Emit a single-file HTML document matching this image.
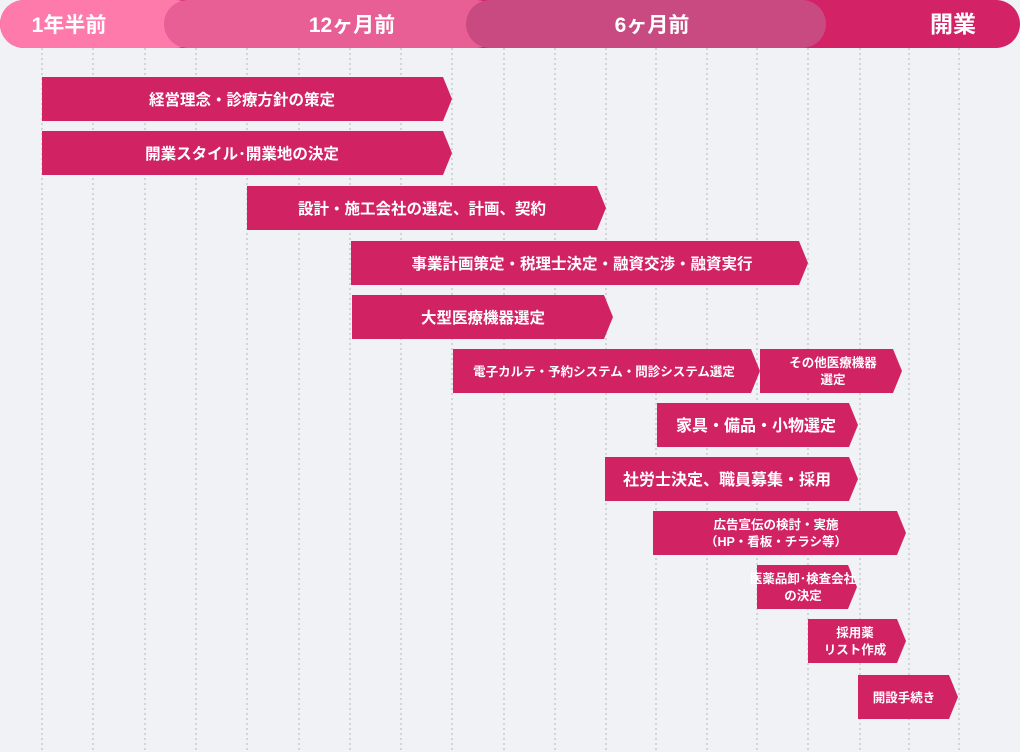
<!DOCTYPE html>
<html><head><meta charset="utf-8"><style>
html,body{margin:0;padding:0;background:#f1f2f6;}
svg{display:block}
text{font-family:"Liberation Sans","Noto Sans CJK JP",sans-serif;fill:#fff;font-weight:bold;text-anchor:middle;}
</style></head><body>
<svg width="1020" height="752" viewBox="0 0 1020 752">
<rect width="1020" height="752" fill="#f1f2f6"/>
<g stroke="#c9c9cc" stroke-width="1.5" stroke-dasharray="2,3">
<line x1="42" y1="48" x2="42" y2="752"/><line x1="93" y1="48" x2="93" y2="752"/><line x1="145" y1="48" x2="145" y2="752"/><line x1="196" y1="48" x2="196" y2="752"/><line x1="247" y1="48" x2="247" y2="752"/><line x1="299" y1="48" x2="299" y2="752"/><line x1="350" y1="48" x2="350" y2="752"/><line x1="401" y1="48" x2="401" y2="752"/><line x1="452" y1="48" x2="452" y2="752"/><line x1="504" y1="48" x2="504" y2="752"/><line x1="555" y1="48" x2="555" y2="752"/><line x1="606" y1="48" x2="606" y2="752"/><line x1="656" y1="48" x2="656" y2="752"/><line x1="707" y1="48" x2="707" y2="752"/><line x1="757" y1="48" x2="757" y2="752"/><line x1="808" y1="48" x2="808" y2="752"/><line x1="860" y1="48" x2="860" y2="752"/><line x1="909" y1="48" x2="909" y2="752"/><line x1="959" y1="48" x2="959" y2="752"/>
</g>
<rect x="0" y="0" width="1020" height="48" rx="24" fill="#d42266"/>
<rect x="0" y="0" width="200" height="48" rx="24" fill="#fd7aaa"/>
<rect x="164" y="0" width="336" height="48" rx="24" fill="#e85f95"/>
<rect x="466" y="0" width="360" height="48" rx="24" fill="#c94a80"/>
<text x="69" y="32" font-size="21">1年半前</text>
<text x="352" y="32" font-size="21">12ヶ月前</text>
<text x="652" y="32" font-size="21">6ヶ月前</text>
<text x="953" y="32" font-size="23">開業</text>
<g fill="#d12264">
<polygon points="42,77 443,77 452,99 443,121 42,121"/>
<polygon points="42,131 443,131 452,153 443,175 42,175"/>
<polygon points="247,186 597,186 606,208 597,230 247,230"/>
<polygon points="351,241 799,241 808,263 799,285 351,285"/>
<polygon points="352,295 604,295 613,317 604,339 352,339"/>
<polygon points="453,349 751,349 760,371 751,393 453,393"/>
<polygon points="760,349 893,349 902,371 893,393 760,393"/>
<polygon points="657,403 849,403 858,425 849,447 657,447"/>
<polygon points="605,457 849,457 858,479 849,501 605,501"/>
<polygon points="653,511 897,511 906,533 897,555 653,555"/>
<polygon points="757,565 848,565 857,587 848,609 757,609"/>
<polygon points="808,619 897,619 906,641 897,663 808,663"/>
<polygon points="858,675 949,675 958,697 949,719 858,719"/>
</g>
<text x="242" y="105" font-size="15.5">経営理念・診療方針の策定</text>
<text x="242" y="159" font-size="15.5">開業スタイル･開業地の決定</text>
<text x="422" y="214" font-size="15.5">設計・施工会社の選定、計画、契約</text>
<text x="582" y="269" font-size="15.5">事業計画策定・税理士決定・融資交渉・融資実行</text>
<text x="483" y="323" font-size="15.5">大型医療機器選定</text>
<text x="604" y="376" font-size="12.5">電子カルテ・予約システム・問診システム選定</text>
<text x="833" y="367" font-size="12.5">その他医療機器</text>
<text x="833" y="384" font-size="12.5">選定</text>
<text x="756" y="431" font-size="16">家具・備品・小物選定</text>
<text x="727" y="485" font-size="16">社労士決定、職員募集・採用</text>
<text x="776" y="529" font-size="12.5">広告宣伝の検討・実施</text>
<text x="776" y="546" font-size="12.5">（HP・看板・チラシ等）</text>
<text x="803" y="583" font-size="12.5">医薬品卸･検査会社</text>
<text x="803" y="600" font-size="12.5">の決定</text>
<text x="855" y="637" font-size="12.5">採用薬</text>
<text x="855" y="654" font-size="12.5">リスト作成</text>
<text x="904" y="702" font-size="12.5">開設手続き</text>
</svg>
</body></html>
